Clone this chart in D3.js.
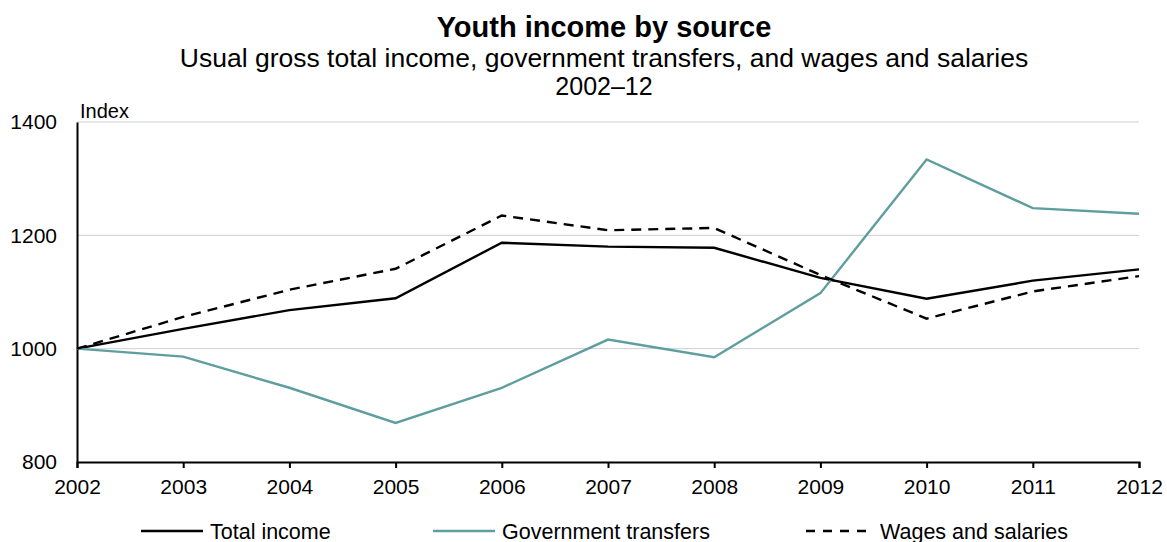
<!DOCTYPE html>
<head>
  <meta charset="utf-8">
  <title>Youth income by source</title>
  <script src="https://cdn.jsdelivr.net/npm/d3@7/dist/d3.min.js"></script>
  <style>
    body { margin: 0; background: #fff; font-family: "Liberation Sans", Arial, sans-serif; }
    svg text { font-family: "Liberation Sans", Arial, sans-serif; }
  </style>
</head>
<body>
<script>
// data
var years = [2002, 2003, 2004, 2005, 2006, 2007, 2008, 2009, 2010, 2011, 2012]
var totalIncome = [1000, 1035, 1068, 1089, 1187, 1180, 1178, 1125, 1088, 1120, 1140]
var govTransfers = [1000, 986, 931, 869, 931, 1016, 985, 1098, 1334, 1248, 1238]
var wagesSalaries = [1000, 1056, 1104, 1141, 1235, 1209, 1213, 1130, 1053, 1101, 1128]
var yTicks = [800, 1000, 1200, 1400]
var seriesNames = ["Total income", "Government transfers", "Wages and salaries"]

var W = 1167, H = 542
var margin = {top: 122, right: 28, bottom: 80, left: 77}
var width = W - margin.left - margin.right,
    height = H - margin.top - margin.bottom

var svg = d3.select("body").append("svg").attr("width", W).attr("height", H)

var cx = 604
svg.append("text").text("Youth income by source").attr("x", cx).attr("y", 37)
  .attr("text-anchor", "middle").attr("font-size", "29px").attr("font-weight", "bold")
svg.append("text").text("Usual gross total income, government transfers, and wages and salaries")
  .attr("x", cx).attr("y", 67).attr("text-anchor", "middle").attr("font-size", "26.5px")
svg.append("text").text("2002–12").attr("x", cx).attr("y", 95)
  .attr("text-anchor", "middle").attr("font-size", "25px")

var g = svg.append("g").attr("transform", "translate(" + margin.left + "," + margin.top + ")")

var xScale = d3.scaleLinear().domain([2002, 2012]).range([0, width])
var yScale = d3.scaleLinear().domain([800, 1400]).range([height, 0])

// gridlines
g.append("g").selectAll("line").data(yTicks.filter(d => d > 800)).enter().append("line")
  .attr("x1", 0).attr("x2", width)
  .attr("y1", d => yScale(d)).attr("y2", d => yScale(d))
  .attr("stroke", "#cfcfcf").attr("stroke-width", 1)

// axes
var yAxis = g.append("g")
  .call(d3.axisLeft(yScale).tickValues(yTicks).tickFormat(d3.format("d")).tickSize(0).tickPadding(20))
yAxis.select(".domain").attr("stroke", "#000").attr("stroke-width", 2)
yAxis.selectAll("text").attr("font-size", "21px").attr("fill", "#000")

var xAxis = g.append("g").attr("transform", "translate(0," + height + ")")
  .call(d3.axisBottom(xScale).tickValues(years).tickFormat(d3.format("d")).tickSizeOuter(0).tickSize(6).tickPadding(11))
xAxis.select(".domain").attr("stroke", "#000").attr("stroke-width", 2)
xAxis.selectAll(".tick line").attr("stroke", "#000").attr("stroke-width", 2)
xAxis.selectAll("text").attr("font-size", "21px").attr("fill", "#000")

g.append("text").text("Index").attr("x", 3).attr("y", -4).attr("font-size", "20px")

var line = d3.line().x((d, i) => xScale(years[i])).y(d => yScale(d))

var styles = [
  {data: totalIncome, color: "#000", dash: null},
  {data: govTransfers, color: "#5f9e9e", dash: null},
  {data: wagesSalaries, color: "#000", dash: "10,7"}
]

styles.forEach(function(s) {
  g.append("path").datum(s.data).attr("fill", "none")
    .attr("stroke", s.color).attr("stroke-width", 2.4)
    .attr("stroke-dasharray", s.dash).attr("d", line)
})

// legend
var legendX = [141, 433, 806]
var legend = svg.append("g").attr("transform", "translate(0,531)")
styles.forEach(function(s, i) {
  legend.append("line").attr("x1", legendX[i]).attr("x2", legendX[i] + 62)
    .attr("y1", 0).attr("y2", 0).attr("stroke", s.color).attr("stroke-width", 2.4)
    .attr("stroke-dasharray", s.dash ? "9,8" : null)
  legend.append("text").text(seriesNames[i]).attr("x", legendX[i] + (i == 2 ? 74 : 69))
    .attr("y", 7.5).attr("font-size", "21.5px")
})
</script>
</body>
